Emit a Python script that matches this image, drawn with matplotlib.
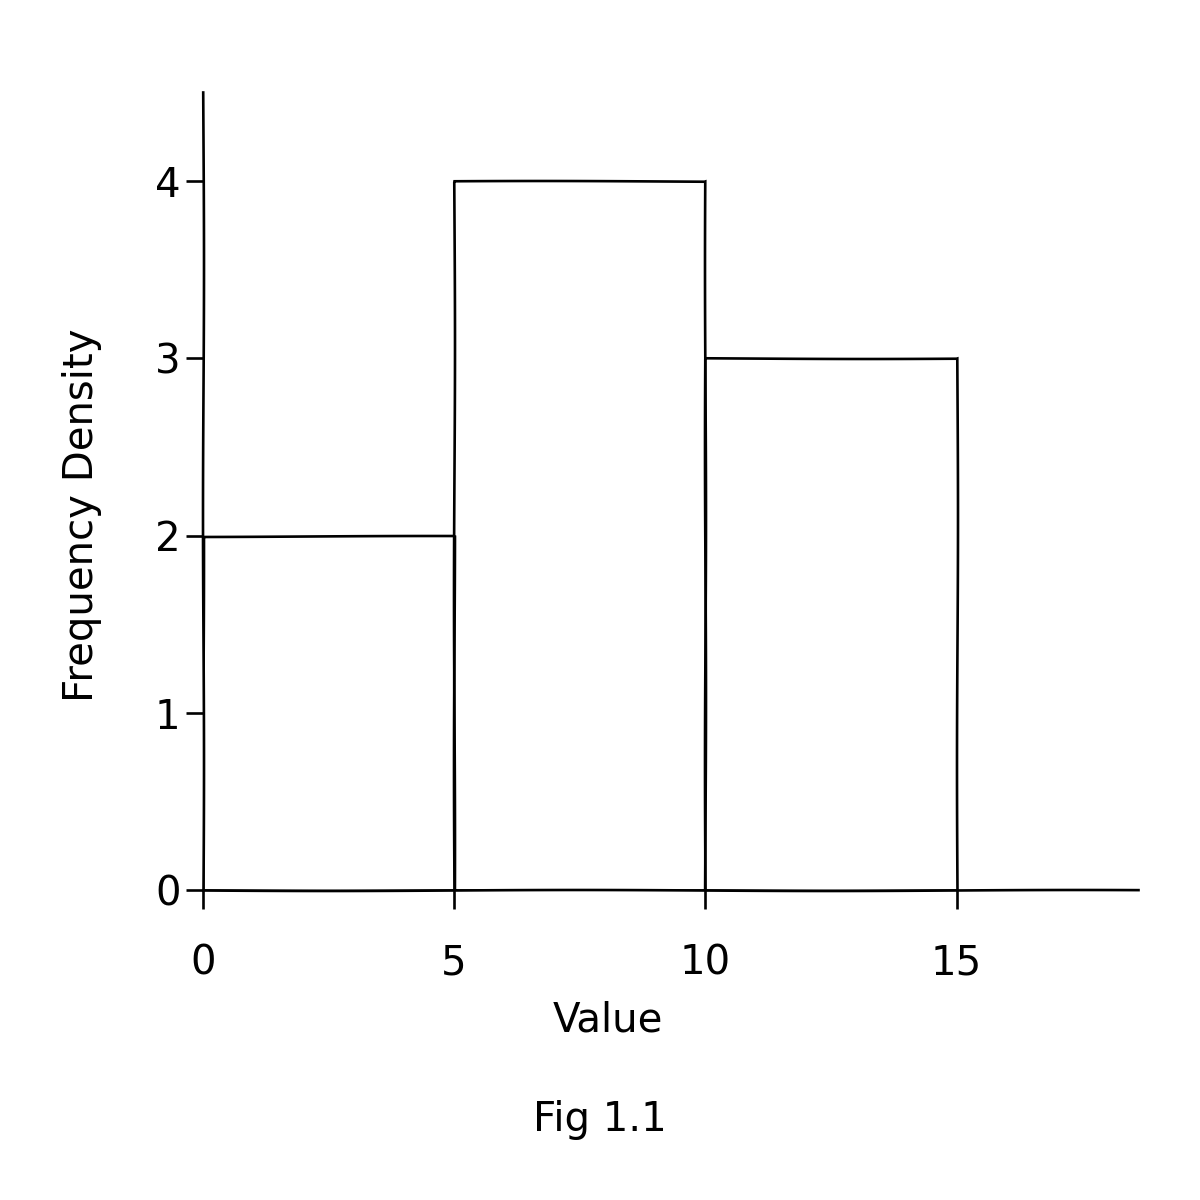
import matplotlib
matplotlib.use("Agg")
import matplotlib.pyplot as plt

bin_edges = [0, 5, 10, 15]
densities = [2, 4, 3]
x_ticks = [0, 5, 10, 15]
y_ticks = [0, 1, 2, 3, 4]

def main():
    plt.rcParams['font.family'] = ['DejaVu Sans']
    plt.rcParams['path.sketch'] = (0.5, 500, 1)

    fig = plt.figure(figsize=(12, 12), dpi=100, facecolor='white')
    ax = fig.add_axes([0.169, 0.258, 0.779, 0.665])

    widths = [bin_edges[i + 1] - bin_edges[i] for i in range(len(densities))]
    ax.bar(bin_edges[:-1], densities, width=widths, align='edge',
           facecolor='none', edgecolor='black', linewidth=1.9)

    ax.set_xlim(0, 18.6)
    ax.set_ylim(0, 4.5)
    ax.set_xticks(x_ticks)
    ax.set_yticks(y_ticks)

    for side in ['top', 'right']:
        ax.spines[side].set_visible(False)
    for side in ['left', 'bottom']:
        ax.spines[side].set_linewidth(1.9)

    ax.tick_params(axis='x', direction='out', length=14, width=1.9,
                   pad=24, labelsize=29)
    ax.tick_params(axis='y', direction='out', length=12, width=1.9,
                   pad=4, labelsize=29)

    ax.set_xlabel("Value", fontsize=29)
    ax.set_ylabel("Frequency Density", fontsize=29)
    ax.xaxis.set_label_coords(0.433, -0.138)
    ax.yaxis.set_label_coords(-0.108, 0.47)

    fig.text(0.5, 0.067, "Fig 1.1", fontsize=29, ha='center', va='center')

    fig.savefig("out.png", dpi=100, facecolor='white')

if __name__ == "__main__":
    main()
